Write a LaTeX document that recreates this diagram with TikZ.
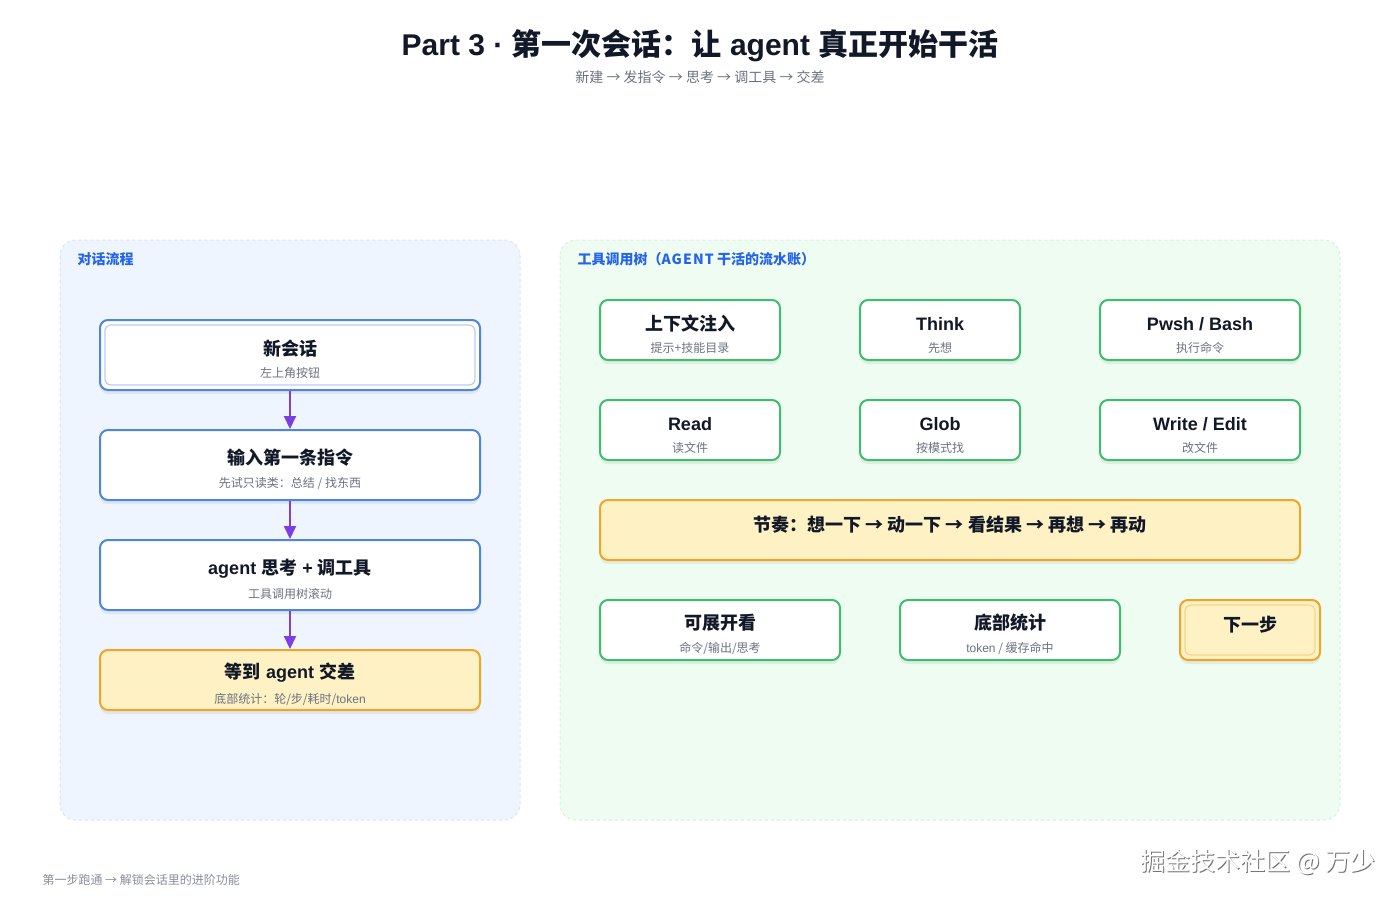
\documentclass[tikz,border=0pt]{standalone}
\usepackage{fontspec}
\setmainfont{Noto Sans CJK SC}
\newfontfamily\lat{Liberation Sans}[BoldFont={Liberation Sans Bold}]
\newfontfamily\spaced{Noto Sans CJK SC}[LetterSpace=8]
\usetikzlibrary{arrows.meta,shadows}
\definecolor{ink}{HTML}{111827}
\definecolor{subgray}{HTML}{6B7280}
\definecolor{labblue}{HTML}{2563EB}
\definecolor{flowblue}{HTML}{4F86DB}
\definecolor{innerblue}{HTML}{BACDF0}
\definecolor{panelblue}{HTML}{EEF5FE}
\definecolor{panelblueline}{HTML}{D8E5F7}
\definecolor{panelgreen}{HTML}{EEFCF2}
\definecolor{panelgreenline}{HTML}{D4F1DE}
\definecolor{toolgreen}{HTML}{3DBE6B}
\definecolor{noteyellow}{HTML}{FEF1C4}
\definecolor{noteorange}{HTML}{F0A52A}
\definecolor{innerorange}{HTML}{F8D58C}
\definecolor{flowpurple}{HTML}{7B3FE4}
\newcommand\ttl[1]{{\bfseries\fontsize{18}{20}\selectfont\color{ink}#1}}
\newcommand\sub[1]{{\fontsize{12}{14}\selectfont\color{subgray}#1}}
\newcommand\two[2]{\ttl{\rule{0pt}{24pt}#1}\\[10pt]\sub{#2}}
\begin{document}
\begin{tikzpicture}[x=1pt, y=-1pt, line join=round,
	panel/.style={rounded corners=16pt, dashed, line width=1pt},
	panellab/.style={anchor=west, font=\bfseries\fontsize{14}{16}\selectfont, text=labblue},
	card/.style={rounded corners=8pt, line width=2pt, fill=white, align=center, inner sep=0pt,
		drop shadow={shadow xshift=0pt, shadow yshift=-4pt, opacity=.06, fill=black}},
	flowbox/.style={card, draw=flowblue, minimum width=380pt, minimum height=70pt},
	toolbox/.style={card, draw=toolgreen, minimum height=60pt},
	notebox/.style={card, draw=noteorange, fill=noteyellow},
	flow/.style={-{Triangle[width=12pt,length=13pt]}, line width=2pt, draw=flowpurple}
	]
	\useasboundingbox[fill=white] (0,0) rectangle (1400,900);
	% title
	\node[font=\bfseries\fontsize{30}{33}\selectfont, text=ink] (title) at (700,46) {{\lat Part 3 · }第一次会话：让{\lat\ agent }真正开始干活};
	\node[font=\fontsize{14}{16}\selectfont, text=subgray] (subtitle) at (700,77) {新建 → 发指令 → 思考 → 调工具 → 交差};
	% panels
	\draw[panel, fill=panelblue, draw=panelblueline] (60,240) rectangle (520,820);
	\draw[panel, fill=panelgreen, draw=panelgreenline] (560,240) rectangle (1340,820);
	\node[panellab] (flowlab) at (74,259) {对话流程};
	\node[panellab] (toollab) at (574,259) {工具调用树（{\spaced AGENT}\ 干活的流水账）};
	% left: flow
	\node[flowbox] (new) at (290,355) {\two{新会话}{左上角按钮}};
	\draw[innerblue, line width=1.2pt, rounded corners=6pt] ([shift={(6,6)}]new.north west) rectangle ([shift={(-6,-6)}]new.south east);
	\node[flowbox] (ask) at (290,465) {\two{输入第一条指令}{先试只读类：总结 / 找东西}};
	\node[flowbox] (work) at (290,575) {\two{{\lat agent }思考{\lat\ + }调工具}{工具调用树滚动}};
	\node[flowbox, draw=noteorange, fill=noteyellow, minimum height=60pt] (done) at (290,680) {\two{等到{\lat\ agent }交差}{底部统计：轮/步/耗时/{\lat token}}};
	\foreach \a/\b in {new/ask, ask/work, work/done}
		\draw[flow] (\a.south) -- (\b.north);
	% right: tool tree
	\node[toolbox, minimum width=180pt] (ctx) at (690,330) {\two{上下文注入}{提示+技能目录}};
	\node[toolbox, minimum width=160pt] (think) at (940,330) {\two{\lat Think}{先想}};
	\node[toolbox, minimum width=200pt] (shell) at (1200,330) {\two{\lat Pwsh / Bash}{执行命令}};
	\node[toolbox, minimum width=180pt] (read) at (690,430) {\two{\lat Read}{读文件}};
	\node[toolbox, minimum width=160pt] (glob) at (940,430) {\two{\lat Glob}{按模式找}};
	\node[toolbox, minimum width=200pt] (write) at (1200,430) {\two{\lat Write / Edit}{改文件}};
	\node[notebox, minimum width=700pt, minimum height=60pt] (rhythm) at (950,530) {\raisebox{12pt}{\ttl{节奏：想一下 → 动一下 → 看结果 → 再想 → 再动}}};
	\node[toolbox, minimum width=240pt] (expand) at (720,630) {\two{可展开看}{命令/输出/思考}};
	\node[toolbox, minimum width=220pt] (stats) at (1010,630) {\two{底部统计}{{\lat token} / 缓存命中}};
	\node[notebox, minimum width=140pt, minimum height=60pt] (next) at (1250,630) {\raisebox{12pt}{\ttl{下一步}}};
	\draw[innerorange, line width=1.2pt, rounded corners=6pt] ([shift={(6,6)}]next.north west) rectangle ([shift={(-6,-6)}]next.south east);
	% footer
	\node[anchor=west, font=\fontsize{12}{14}\selectfont, text=subgray!80] (foot) at (39,880) {第一步跑通 → 解锁会话里的进阶功能};
	\node[font=\fontsize{25}{27}\selectfont, text=black!55] (wmshade) at (1259,863) {掘金技术社区 @ 万少};
	\node[font=\fontsize{25}{27}\selectfont, text=white] (wm) at (1258,862) {掘金技术社区 @ 万少};
\end{tikzpicture}
\end{document}
